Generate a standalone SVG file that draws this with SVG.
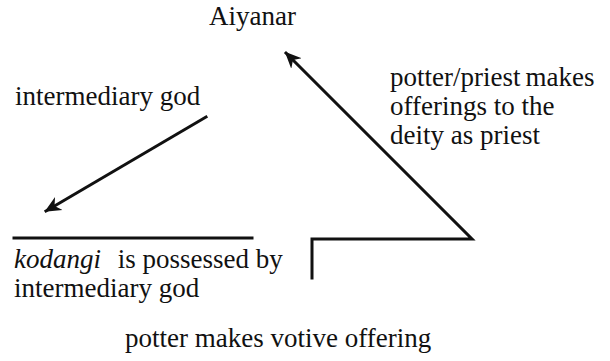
<svg xmlns="http://www.w3.org/2000/svg" width="610" height="361" viewBox="0 0 610 361">
<style>
.t{font-family:"Liberation Serif","Times New Roman","DejaVu Serif",serif;font-size:27px;fill:#111}
.ln{stroke:#111;stroke-width:3;fill:none;stroke-linecap:square}
</style>
<defs>
<marker id="ah" viewBox="0 0 20 20" refX="18" refY="10" markerWidth="5.5" markerHeight="5.5" markerUnits="strokeWidth" orient="auto">
<path d="M0,1 L20,10 L0,19 L6,10 Z" fill="#111"/>
</marker>
</defs>
<rect width="610" height="361" fill="#fff"/>
<g id="aiyanar"><text class="t" x="209" y="25">Aiyanar</text></g>
<g id="intermediary-god"><text class="t" x="15" y="105">intermediary god</text></g>
<g id="potter-priest"><text class="t" x="390" y="86">potter/priest<tspan dx="5">makes</tspan></text><text class="t" x="390" y="115">offerings to the</text><text class="t" x="390" y="144">deity as priest</text></g>
<g id="kodangi"><line class="ln" x1="14" y1="238" x2="252" y2="238"/><text class="t" x="14" y="268"><tspan font-style="italic">kodangi</tspan><tspan dx="10"> is possessed by</tspan></text><text class="t" x="14" y="297">intermediary god</text></g>
<g id="potter"><text class="t" x="125" y="347">potter makes votive offering</text></g>
<g id="connectors">
<line class="ln" x1="206" y1="117" x2="46" y2="211" marker-end="url(#ah)"/>
<polyline class="ln" points="312,278 312,239 472,239 286,53" marker-end="url(#ah)" stroke-linejoin="miter"/>
</g>
</svg>
